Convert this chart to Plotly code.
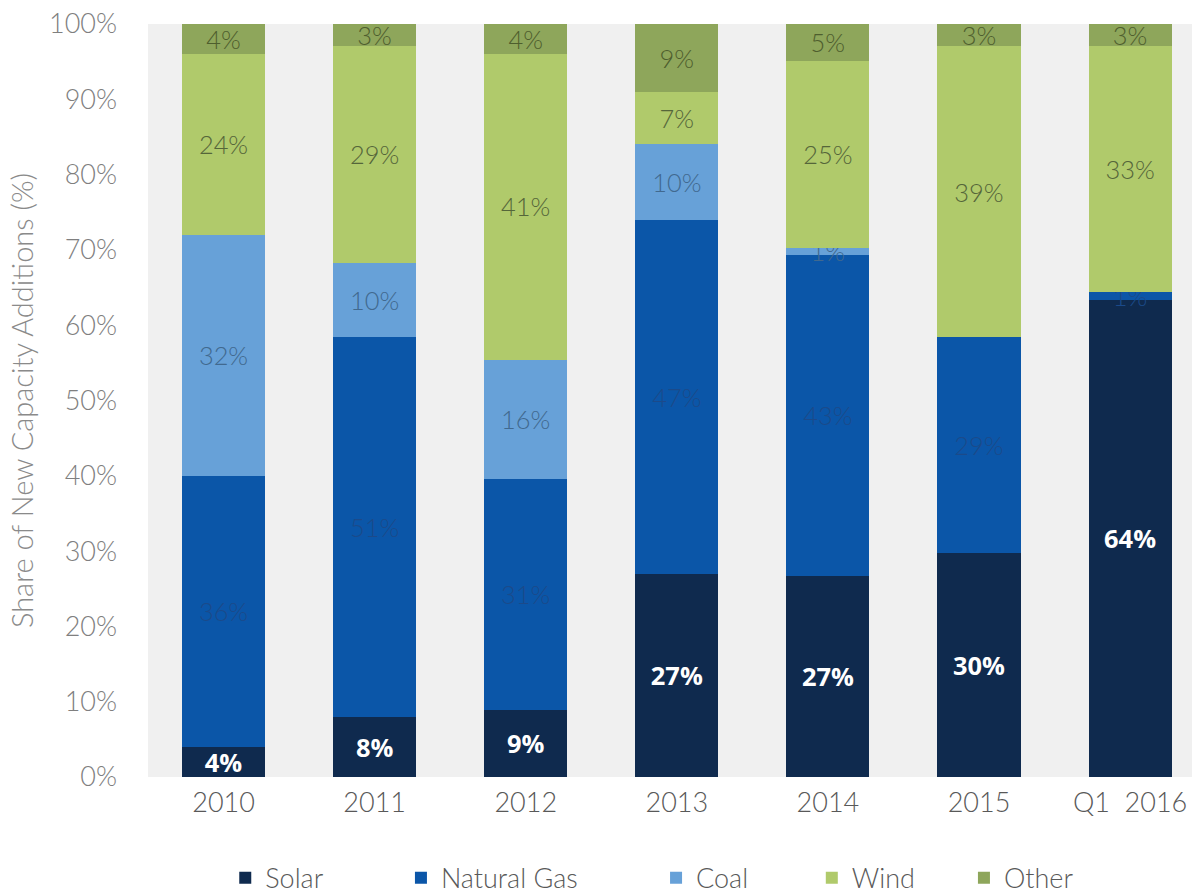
import plotly.graph_objects as go

categories = ["2010", "2011", "2012", "2013", "2014", "2015", "Q1  2016"]
solar = [4, 8, 9, 27, 27, 30, 64]
natural_gas = [36, 51, 31, 47, 43, 29, 1]
coal = [32, 10, 16, 10, 1, 0, 0]
wind = [24, 29, 41, 7, 25, 39, 33]
other = [4, 3, 4, 9, 5, 3, 3]

FONT = "Lato"
series = [
    ("Solar", solar, "#0f2a4e", dict(color="white", size=26, family="Open Sans", weight="bold"), 10),
    ("Natural Gas", natural_gas, "#0b56a8", dict(color="#1b4a8a", size=26, family=FONT, weight=300), 10),
    ("Coal", coal, "#67a1d8", dict(color="#41698f", size=26, family=FONT, weight=300), 8),
    ("Wind", wind, "#b0ca6b", dict(color="#55663a", size=26, family=FONT, weight=300), 6),
    ("Other", other, "#8ea65b", dict(color="#4e5e2e", size=26, family=FONT, weight=300), 4),
]

fig = go.Figure()
for name, vals, color, tfont, pad in series:
    fig.add_trace(go.Bar(
        x=categories, y=vals, name=name + "\u00a0" * pad,
        marker=dict(color=color, line=dict(width=0)),
        text=[f"{v}%" if v > 0 else "" for v in vals],
        textposition="inside", insidetextanchor="middle", textangle=0,
        insidetextfont=tfont, hoverinfo="skip",
        width=0.55,
    ))

fig.update_layout(
    barmode="stack", barnorm="percent",
    width=1192, height=894,
    margin=dict(l=148, r=0, t=24, b=117, autoexpand=False),
    paper_bgcolor="white", plot_bgcolor="#f0f0f0",
    font=dict(family=FONT, color="#6b6b6b", size=26, weight=300),
    uniformtext=dict(minsize=24, mode="show"),
    showlegend=True,
    legend=dict(orientation="h", x=0.074, xanchor="left", y=-0.102, yanchor="top",
                font=dict(size=27, color="#595959", family=FONT, weight=300), itemwidth=30,
                traceorder="normal"),
    xaxis=dict(range=[-0.5, 6.41], showgrid=False, zeroline=False, showline=False,
               tickfont=dict(size=27, color="#595959", family=FONT, weight=300), ticks="",
               ticklabelstandoff=7, automargin=False),
    yaxis=dict(range=[0, 100], dtick=10, ticksuffix="%", showgrid=False, zeroline=False,
               showline=False, tickfont=dict(size=27, color="#7f7f7f", family=FONT, weight=300),
               ticklabelstandoff=30, automargin=False,
               title=dict(text="Share of New Capacity Additions (%)",
                          font=dict(size=29, color="#8a8a8a", family=FONT, weight=300), standoff=6)),
)

fig.write_html("out.html")
